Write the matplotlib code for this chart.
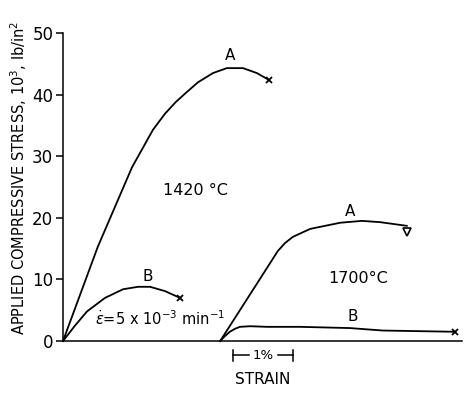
import matplotlib.pyplot as plt

# strain in %, stress in 10^3 lb/in^2
a1420_x = [0, 0.58, 1.15, 1.5, 1.7, 1.88, 2.05, 2.25, 2.5, 2.73, 3.0, 3.23, 3.43]
a1420_y = [0, 15.3, 28.2, 34.3, 36.9, 38.8, 40.3, 42.0, 43.5, 44.3, 44.3, 43.5, 42.4]

b1420_x = [0, 0.2, 0.4, 0.7, 1.0, 1.25, 1.45, 1.7, 1.95]
b1420_y = [0, 2.5, 4.8, 7.0, 8.4, 8.8, 8.8, 8.1, 7.0]

a1700_x = [2.62, 3.58, 3.7, 3.83, 4.12, 4.62, 4.98, 5.28, 5.73]
a1700_y = [0, 14.6, 15.9, 16.9, 18.2, 19.2, 19.5, 19.3, 18.7]

b1700_x = [2.62, 2.7, 2.78, 2.87, 2.95, 3.12, 3.4, 3.95, 4.78, 5.33, 6.53]
b1700_y = [0, 0.8, 1.5, 2.0, 2.3, 2.4, 2.3, 2.3, 2.1, 1.7, 1.5]

yticks = [0, 10, 20, 30, 40, 50]

fig = plt.figure(figsize=(4.65, 3.93), dpi=100)
ax = fig.add_axes([0.1355, 0.1323, 0.858, 0.7837])

lw = 1.3
ax.plot(a1420_x, a1420_y, color='black', lw=lw, clip_on=False)
ax.plot(b1420_x, b1420_y, color='black', lw=lw, clip_on=False)
ax.plot(a1700_x, a1700_y, color='black', lw=lw, clip_on=False)
ax.plot(b1700_x, b1700_y, color='black', lw=lw, clip_on=False)

# end markers
ax.plot(a1420_x[-1], a1420_y[-1], marker='x', color='black', ms=4, mew=1.3, clip_on=False)
ax.plot(b1420_x[-1], b1420_y[-1], marker='x', color='black', ms=4, mew=1.3, clip_on=False)
ax.plot(b1700_x[-1], b1700_y[-1], marker='x', color='black', ms=4, mew=1.3, clip_on=False)
ax.plot(a1700_x[-1], a1700_y[-1] - 1.0, marker='v', color='black', ms=6,
        mfc='none', mew=1.2, clip_on=False)

fs = 11
ax.text(2.78, 46.3, 'A', fontsize=fs, ha='center', va='center')
ax.text(1.42, 10.4, 'B', fontsize=fs, ha='center', va='center')
ax.text(2.2, 24.5, '1420 °C', fontsize=11.5, ha='center', va='center')
ax.text(1.62, 3.7, r'$\dot{\epsilon}$=5 x 10$^{-3}$ min$^{-1}$', fontsize=10.5,
        ha='center', va='center')
ax.text(4.78, 21.1, 'A', fontsize=fs, ha='center', va='center')
ax.text(4.92, 10.2, '1700°C', fontsize=11.5, ha='center', va='center')
ax.text(4.83, 3.9, 'B', fontsize=fs, ha='center', va='center')

# 1% strain scale bar below axis
ax.plot([2.83, 3.1], [-2.3, -2.3], color='black', lw=1.1, clip_on=False)
ax.plot([3.58, 3.83], [-2.3, -2.3], color='black', lw=1.1, clip_on=False)
ax.plot([2.83, 2.83], [-3.2, -1.4], color='black', lw=1.1, clip_on=False)
ax.plot([3.83, 3.83], [-3.2, -1.4], color='black', lw=1.1, clip_on=False)
ax.text(3.34, -2.3, '1%', fontsize=9.5, ha='center', va='center')

ax.set_xlim(0, 6.65)
ax.set_ylim(0, 50)
ax.set_yticks(yticks)
ax.set_yticklabels([str(t) for t in yticks], fontsize=12)
ax.set_xticks([])
ax.tick_params(axis='y', direction='out', length=5, width=1.1, pad=2)
ax.spines['top'].set_visible(False)
ax.spines['right'].set_visible(False)
ax.spines['left'].set_linewidth(1.1)
ax.spines['bottom'].set_linewidth(1.1)

ax.set_xlabel('STRAIN', fontsize=fs, labelpad=22)
ax.set_ylabel('APPLIED COMPRESSIVE STRESS, 10$^3$, lb/in$^2$', fontsize=10.5)
ax.yaxis.set_label_coords(-0.085, 0.53)

fig.savefig('out.png', dpi=100)
